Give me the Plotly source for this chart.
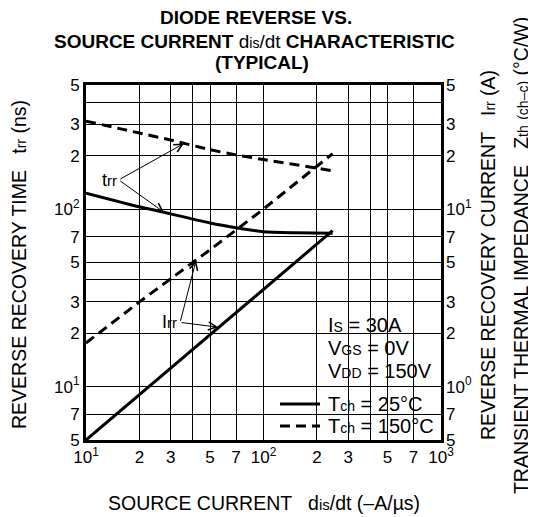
import math
import plotly.graph_objects as go

# ---------------- data ----------------
x_trr25 = [10, 20, 30, 50, 70, 100, 150, 245]
trr25 = [123, 103, 94, 83.5, 78.5, 74.5, 73.5, 73]          # ns, Tch = 25 C
x_trr150 = [10, 20, 30, 50, 70, 100, 200, 245]
trr150 = [313, 268, 245, 216, 202, 190, 170, 164]            # ns, Tch = 150 C
x_irr25 = [10, 24, 51, 124, 245]
irr25 = [0.5, 1.05, 2.0, 4.25, 7.55]                         # A, Tch = 25 C
x_irr150 = [10, 20, 50, 100, 245]
irr150 = [1.76, 3.0, 5.9, 10, 20.5]                          # A, Tch = 150 C

x_tickvals = [10, 20, 30, 40, 50, 70, 100, 200, 300, 400, 500, 700, 1000]
x_ticktext = ["10<sup>1</sup>", "2", "3", "", "5", "7", "10<sup>2</sup>",
              "2", "3", "", "5", "7", "10<sup>3</sup>"]
y_tickvals = [5, 7, 10, 20, 30, 40, 50, 70, 100, 200, 300, 400, 500]
y_ticktext = ["5", "7", "10<sup>1</sup>", "2", "3", "", "5", "7",
              "10<sup>2</sup>", "2", "3", "", "5"]
y2_tickvals = [0.5, 0.7, 1, 2, 3, 5, 7, 10, 20, 30, 50]
y2_ticktext = ["5", "7", "10<sup>0</sup>", "2", "3", "5", "7",
               "10<sup>1</sup>", "2", "3", "5"]

FONT = "Liberation Sans, Arial, Helvetica, sans-serif"
BLACK = "#000000"
DASH = "10px,6px"

fig = go.Figure()
fig.add_trace(go.Scatter(x=x_trr25, y=trr25, mode="lines",
                         line=dict(color=BLACK, width=3, shape="spline", smoothing=0.6),
                         name="trr 25", hoverinfo="skip"))
fig.add_trace(go.Scatter(x=x_trr150, y=trr150, mode="lines",
                         line=dict(color=BLACK, width=3, dash=DASH, shape="spline", smoothing=0.6),
                         name="trr 150", hoverinfo="skip"))
fig.add_trace(go.Scatter(x=x_irr25, y=irr25, mode="lines", yaxis="y2",
                         line=dict(color=BLACK, width=3), name="Irr 25", hoverinfo="skip"))
fig.add_trace(go.Scatter(x=x_irr150, y=irr150, mode="lines", yaxis="y2",
                         line=dict(color=BLACK, width=3, dash=DASH), name="Irr 150", hoverinfo="skip"))

L = math.log10


def small(t, s=14):
    return "<span style='font-size:%dpx'>%s</span>" % (s, t)


def F(size):
    return dict(size=size, family=FONT, color=BLACK)


TS = 19.5   # axis-title font size
ann = []
# title lines
ann.append(dict(text="<b>DIODE REVERSE VS.</b>", x=0.48, y=1, yshift=68))
ann.append(dict(text="<b>SOURCE CURRENT </b>d" + small("is", 14) + "/dt<b> CHARACTERISTIC</b>",
                x=0.474, y=1, yshift=44))
ann.append(dict(text="<b>(TYPICAL)</b>", x=0.496, y=1, yshift=23))
for a in ann:
    a.update(xref="paper", yref="paper", showarrow=False, xanchor="center", yanchor="middle", font=F(19))

# axis titles
ann.append(dict(text="SOURCE CURRENT   d" + small("is", 15) + "/dt (\u2013A/\u00b5s)", xref="paper", yref="paper",
                x=0.5, y=0, yshift=-63, xanchor="center", yanchor="middle", showarrow=False, font=F(TS)))
ann.append(dict(text="REVERSE RECOVERY TIME   t" + small("rr", 14) + " (ns)", xref="paper", yref="paper",
                x=0, xshift=-67, y=0.493, xanchor="center", yanchor="middle", textangle=-90,
                showarrow=False, font=F(TS)))
ann.append(dict(text="REVERSE RECOVERY CURRENT   I" + small("rr", 14) + " (A)", xref="paper", yref="paper",
                x=1, xshift=47, y=0.521, xanchor="center", yanchor="middle", textangle=-90,
                showarrow=False, font=F(TS)))
ann.append(dict(text="TRANSIENT THERMAL IMPEDANCE   Z" + small("th", 14) + " " + small("(ch\u2013c)", 14)
                + " (\u00b0C/W)",
                xref="paper", yref="paper", x=1, xshift=80, y=0.518, xanchor="center", yanchor="middle",
                textangle=-90, showarrow=False, font=F(TS)))

# condition box text
for txt, py in [("I" + small("S") + " = 30A", 325), ("V" + small("GS") + " = 0V", 348),
                ("V" + small("DD") + " = 150V", 371)]:
    ann.append(dict(text=txt, xref="paper", yref="paper", x=(326 - 86) / 355, y=(440 - py) / 355,
                    xanchor="left", yanchor="middle", showarrow=False, font=F(20)))
# legend text
for txt, py in [("T" + small("ch") + " = 25\u00b0C", 404), ("T" + small("ch") + " = 150\u00b0C", 426)]:
    ann.append(dict(text=txt, xref="paper", yref="paper", x=(326 - 86) / 355, y=(440 - py) / 355,
                    xanchor="left", yanchor="middle", showarrow=False, font=F(20)))

# trr / Irr labels with leader arrows
ann.append(dict(text="t" + small("rr", 15), xref="x", yref="y", x=L(15.3), y=L(146),
                xanchor="right", yanchor="middle", showarrow=False, font=F(18)))
ann.append(dict(text="I" + small("rr", 15), xref="x", yref="y", x=L(33.2), y=L(23),
                xanchor="right", yanchor="middle", showarrow=False, font=F(18)))
arrows = [
    (L(15.3), L(146), L(35.6), L(234)),
    (L(15.3), L(146), L(27.5), L(95.9)),
    (L(33.9), L(23), L(41.7), L(51.5)),
    (L(33.9), L(23), L(55.5), L(21.6)),
]
for ax_, ay_, hx, hy in arrows:
    ann.append(dict(text="", xref="x", yref="y", axref="x", ayref="y", x=hx, y=hy, ax=ax_, ay=ay_,
                    showarrow=True, arrowhead=5, arrowsize=1.6, arrowwidth=1, arrowcolor=BLACK,
                    standoff=0, startstandoff=0))

shapes = []
# white boxes hiding the grid behind the conditions text and the legend
shapes.append(dict(type="rect", xref="paper", yref="paper", x0=(318 - 86) / 355, x1=(437 - 86) / 355,
                   y0=(440 - 383) / 355, y1=(440 - 312) / 355, fillcolor="white", line=dict(width=0),
                   layer="between"))
shapes.append(dict(type="rect", xref="paper", yref="paper", x0=(276 - 86) / 355, x1=(437 - 86) / 355,
                   y0=(440 - 436) / 355, y1=(440 - 390) / 355, fillcolor="white", line=dict(width=0),
                   layer="between"))
# legend keys
shapes.append(dict(type="line", xref="paper", yref="paper", x0=(280 - 86) / 355, x1=(320 - 86) / 355,
                   y0=(440 - 404) / 355, y1=(440 - 404) / 355, line=dict(color=BLACK, width=3)))
shapes.append(dict(type="line", xref="paper", yref="paper", x0=(280 - 86) / 355, x1=(320 - 86) / 355,
                   y0=(440 - 426) / 355, y1=(440 - 426) / 355, line=dict(color=BLACK, width=3, dash=DASH)))

axis_common = dict(type="log", showgrid=True, gridcolor=BLACK, gridwidth=1.2, showline=True, linecolor=BLACK,
                   linewidth=3, mirror=True, ticks="", zeroline=False, tickfont=F(17))

# the page body adds an 8 px margin, so the figure is 8 px smaller than the window
fig.update_layout(
    width=528, height=509,
    margin=dict(l=78, r=95, t=77, b=77),
    paper_bgcolor="white", plot_bgcolor="white",
    showlegend=False,
    font=dict(family=FONT, color=BLACK),
    xaxis=dict(range=[1, 3], tickvals=x_tickvals, ticktext=x_ticktext, **axis_common),
    yaxis=dict(range=[L(5), L(500)], tickvals=y_tickvals, ticktext=y_ticktext, **axis_common),
    yaxis2=dict(type="log", overlaying="y", side="right", range=[L(0.5), L(50)], tickvals=y2_tickvals,
                ticktext=y2_ticktext, showgrid=False, showline=False, ticks="", zeroline=False,
                ticklabelstandoff=4, tickfont=F(17)),
    annotations=ann,
    shapes=shapes,
)

fig.write_html("out.html")
